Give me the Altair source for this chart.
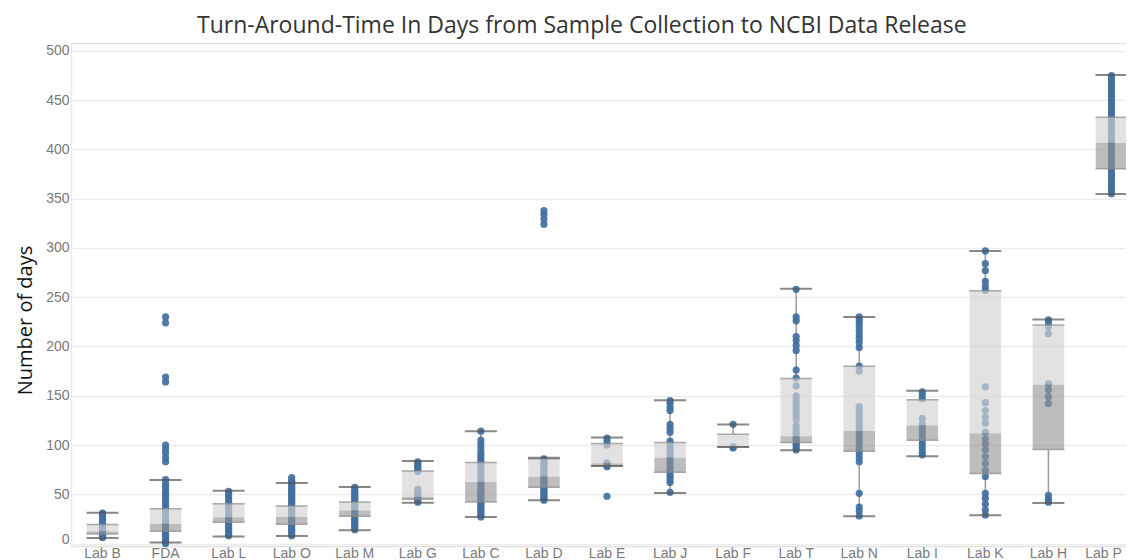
import altair as alt
import pandas as pd

labs = ["Lab B", "FDA", "Lab L", "Lab O", "Lab M", "Lab G", "Lab C", "Lab D", "Lab E",
        "Lab J", "Lab F", "Lab T", "Lab N", "Lab I", "Lab K", "Lab H", "Lab P"]
whisker_low = [5.5, 1, 7.2, 7.6, 13.4, 41.5, 27, 44, 78.7, 51.3, 98, 94.7, 27.6, 88.6, 28.6, 41.2, 354.7]
q1 = [9.7, 12.4, 21.6, 19.5, 27.6, 44.9, 42.2, 57, 79, 72.3, 98, 102.5, 93.7, 104.8, 71, 95.4, 380.4]
median = [12.4, 20, 26.8, 27, 33.7, 47.3, 62.5, 68, 81.5, 87.2, 98, 109, 114.3, 120, 112, 161.4, 406.8]
q3 = [19.2, 35.4, 40.5, 38, 42.2, 73.7, 82.2, 86, 101.5, 102.5, 111, 167.5, 180, 146, 256.5, 221.7, 432.6]
whisker_high = [31.3, 64.6, 53.6, 61.5, 57.4, 83.8, 114, 87, 107.6, 145.5, 120.8, 258.5, 230, 155, 297, 227.4, 475.6]

pts_lab_b = [6, 7, 8, 9, 10, 11, 12, 13, 14, 15, 16, 18, 20, 22, 24, 26, 28, 30, 31]
pts_fda = [0, 1, 2, 4, 6, 8, 10, 12, 14, 16, 18, 20, 22, 25, 28, 31, 34, 37, 40, 43, 46, 49,
           52, 55, 58, 61, 65, 83, 87, 92, 96, 100, 164, 169, 224, 230]
pts_lab_l = [8, 10, 12, 14, 16, 18, 20, 22, 24, 26, 28, 30, 33, 36, 39, 42, 45, 48, 51, 53]
pts_lab_o = [8, 10, 12, 14, 16, 18, 20, 22, 24, 26, 28, 30, 32, 34, 36, 38, 40, 42, 44, 46,
             48, 50, 52, 54, 56, 58, 60, 62, 64, 67]
pts_lab_m = [14, 16, 18, 20, 22, 24, 26, 28, 30, 32, 34, 36, 38, 40, 42, 44, 46, 48, 50, 52, 54, 57]
pts_lab_g = [42, 44, 46, 48, 50, 52, 55, 73, 75, 77, 79, 81, 83]
pts_lab_c = [27, 29, 31, 33, 35, 37, 39, 41, 43, 45, 47, 49, 51, 53, 55, 57, 60, 63, 66, 69,
             72, 75, 78, 81, 84, 87, 90, 93, 97, 101, 105, 114]
pts_lab_d = [44, 46, 48, 50, 52, 54, 56, 58, 60, 62, 64, 66, 68, 70, 72, 74, 76, 78, 80, 82,
             84, 86, 324, 329, 334, 338]
pts_lab_e = [48, 78, 80, 82, 100, 104, 107]
pts_lab_j = [52, 62, 65, 68, 71, 74, 77, 80, 83, 86, 89, 92, 95, 98, 101, 104, 113, 117, 121,
             135, 138, 142, 145]
pts_lab_f = [97, 98, 121]
pts_lab_t = [95, 97, 100, 102, 104, 106, 108, 112, 116, 120, 126, 130, 134, 138, 142, 146, 150,
             160, 168, 176, 196, 201, 206, 210, 226, 230, 258]
pts_lab_n = [28, 33, 37, 51, 83, 87, 91, 95, 99, 103, 107, 111, 115, 119, 123, 127, 131, 135,
             139, 175, 180, 199, 204, 208, 212, 216, 220, 224, 227, 230]
pts_lab_i = [90, 93, 97, 101, 105, 109, 113, 117, 121, 127, 147, 151, 154]
pts_lab_k = [29, 34, 40, 46, 51, 68, 74, 81, 88, 95, 101, 106, 113, 122, 128, 135, 143, 159,
             257, 261, 266, 277, 284, 297]
pts_lab_h = [42, 45, 49, 142, 149, 156, 162, 213, 220, 224, 227]
pts_lab_p = [355, 358, 361, 364, 367, 370, 373, 376, 379, 382, 385, 388, 391, 394, 397, 400,
             403, 406, 409, 412, 415, 418, 421, 424, 427, 430, 433, 436, 439, 442, 445, 448,
             451, 454, 457, 460, 463, 466, 469, 472, 475]

y_ticks = [0, 50, 100, 150, 200, 250, 300, 350, 400, 450, 500]

point_lists = [pts_lab_b, pts_fda, pts_lab_l, pts_lab_o, pts_lab_m, pts_lab_g, pts_lab_c,
               pts_lab_d, pts_lab_e, pts_lab_j, pts_lab_f, pts_lab_t, pts_lab_n, pts_lab_i,
               pts_lab_k, pts_lab_h, pts_lab_p]

rows = []
for lab, vals in zip(labs, point_lists):
    for v in vals:
        rows.append({"lab": lab, "days": v})
points_df = pd.DataFrame(rows)

stats_df = pd.DataFrame({"lab": labs, "lo": whisker_low, "q1": q1, "med": median,
                         "q3": q3, "hi": whisker_high})

x_enc = alt.X("lab:N", sort=labs, title=None,
              scale=alt.Scale(type="band", paddingInner=0, paddingOuter=0, range=[0, 1072]),
              axis=alt.Axis(labelAngle=0, labelFont="Liberation Sans", labelFontSize=14,
                            labelColor="#7a7a7a", labelPadding=0, ticks=False,
                            labelOffset={"condition": {"test": "datum.value === 'Lab P'",
                                                       "value": -8}, "value": 0},
                            domainColor="#e2e2e2", domainWidth=1.5, grid=False))
y_scale = alt.Scale(domain=[-2.5, 508], nice=False, zero=False)
y_axis = alt.Axis(values=y_ticks, title="Number of days", titleFont="Open Sans",
                  titleFontSize=20, titleFontWeight="normal", titleColor="#111",
                  titleX=-46, titleY=277, titleAngle=-90, titleBaseline="middle",
                  titleAlign="center",
                  labelFont="Liberation Sans", labelFontSize=14, labelColor="#7a7a7a",
                  labelPadding=2, ticks=False, domainColor="#eaeaea", domainWidth=1.5,
                  gridColor="#ececec", gridWidth=1.5,
                  labelBaseline={"condition": {"test": "datum.value === 0", "value": "alphabetic"},
                                 "value": "middle"})

base_stats = alt.Chart(stats_df)

whisk_low = base_stats.mark_rule(color="#9a9a9a", strokeWidth=1.5).encode(
    x=x_enc, y=alt.Y("lo:Q", scale=y_scale, axis=y_axis), y2="q1:Q")
whisk_high = base_stats.mark_rule(color="#9a9a9a", strokeWidth=1.5).encode(
    x=x_enc, y=alt.Y("q3:Q", scale=y_scale), y2="hi:Q")

points = alt.Chart(points_df).mark_circle(size=52, color="#42709f", opacity=0.92).encode(
    x=x_enc, y=alt.Y("days:Q", scale=y_scale))

lower_box = base_stats.mark_bar(width=alt.RelativeBandSize(0.5), color="#959595",
                                opacity=0.62).encode(
    x=x_enc, y=alt.Y("q1:Q", scale=y_scale), y2="med:Q")
upper_box = base_stats.mark_bar(width=alt.RelativeBandSize(0.5), color="#d3d3d3",
                                opacity=0.66).encode(
    x=x_enc, y=alt.Y("med:Q", scale=y_scale), y2="q3:Q")

edge_q1 = base_stats.mark_tick(size=32, thickness=1.5, color="#8a8a8a").encode(
    x=x_enc, y=alt.Y("q1:Q", scale=y_scale))
edge_q3 = base_stats.mark_tick(size=32, thickness=1.5, color="#8a8a8a").encode(
    x=x_enc, y=alt.Y("q3:Q", scale=y_scale))
cap_low = base_stats.mark_tick(size=32, thickness=2, color="#555555").encode(
    x=x_enc, y=alt.Y("lo:Q", scale=y_scale))
cap_high = base_stats.mark_tick(size=32, thickness=2, color="#555555").encode(
    x=x_enc, y=alt.Y("hi:Q", scale=y_scale))

chart = alt.layer(whisk_low, whisk_high, points, lower_box, upper_box,
                  edge_q1, edge_q3, cap_low, cap_high).properties(
    width=1055, height=503,
    title=alt.TitleParams("Turn-Around-Time In Days from Sample Collection to NCBI Data Release",
                          font="Open Sans", fontSize=23, fontWeight="normal",
                          color="#333333", anchor="start", frame="group", dx=126, offset=5),
    autosize=alt.AutoSizeParams(type="none"),
    padding={"left": 63, "top": 35, "right": 0, "bottom": 15},
).configure_view(stroke=None).configure(background="white")

chart.save("out.html", embed_options={"renderer": "svg", "actions": False})
